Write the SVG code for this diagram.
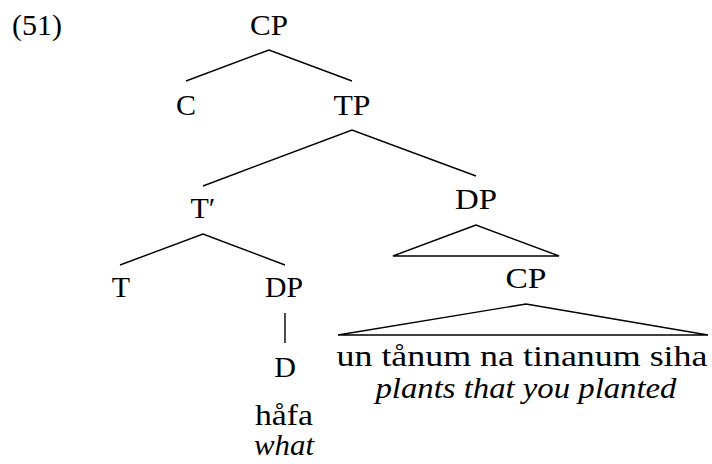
<svg xmlns="http://www.w3.org/2000/svg" width="712" height="464" viewBox="0 0 712 464">
<style>
text{font-family:'Liberation Serif','DejaVu Serif',serif;font-size:30px;fill:#000;text-anchor:middle}
.it{font-style:italic}
.ln{stroke:#000;stroke-width:1.4;fill:none;stroke-linejoin:miter}
</style>
<rect width="712" height="464" fill="#fff"/>
<g font-family="Liberation Serif, DejaVu Serif, serif" font-size="30">
<text x="12" y="35" style="text-anchor:start" textLength="50" lengthAdjust="spacingAndGlyphs">(51)</text>
<g id="connectors">
<polyline class="ln" points="186,81 269,50 352,81"/>
<polyline class="ln" points="203,186 352,130 476,176"/>
<polyline class="ln" points="120,265 203,234 285,265"/>
<line class="ln" x1="285" y1="313" x2="285" y2="343"/>
<polygon class="ln" points="476,225 393,256 559,256"/>
<polygon class="ln" points="526,304 338,335 708,335"/>
</g>
<g id="n-cp"><text x="269" y="35" textLength="38" lengthAdjust="spacingAndGlyphs">CP</text></g>
<g id="n-c"><text x="186" y="115">C</text></g>
<g id="n-tp"><text x="352" y="115" textLength="37" lengthAdjust="spacingAndGlyphs">TP</text></g>
<g id="n-tbar"><text x="203" y="218">T′</text></g>
<g id="n-t"><text x="121" y="297">T</text></g>
<g id="n-dp1"><text x="284" y="297" textLength="38" lengthAdjust="spacingAndGlyphs">DP</text></g>
<g id="n-d"><text x="285" y="377">D</text></g>
<g id="n-hafa"><text x="284" y="425" textLength="58" lengthAdjust="spacingAndGlyphs">håfa</text><text class="it" x="284" y="455" textLength="60" lengthAdjust="spacingAndGlyphs">what</text></g>
<g id="n-dp2"><text x="476" y="209" textLength="42" lengthAdjust="spacingAndGlyphs">DP</text></g>
<g id="n-cp2"><text x="526" y="288" textLength="41" lengthAdjust="spacingAndGlyphs">CP</text></g>
<g id="n-phrase"><text x="522" y="366" textLength="371" lengthAdjust="spacingAndGlyphs">un tånum na tinanum siha</text><text class="it" x="526" y="398" textLength="301" lengthAdjust="spacingAndGlyphs">plants that you planted</text></g>
</g>
</svg>
